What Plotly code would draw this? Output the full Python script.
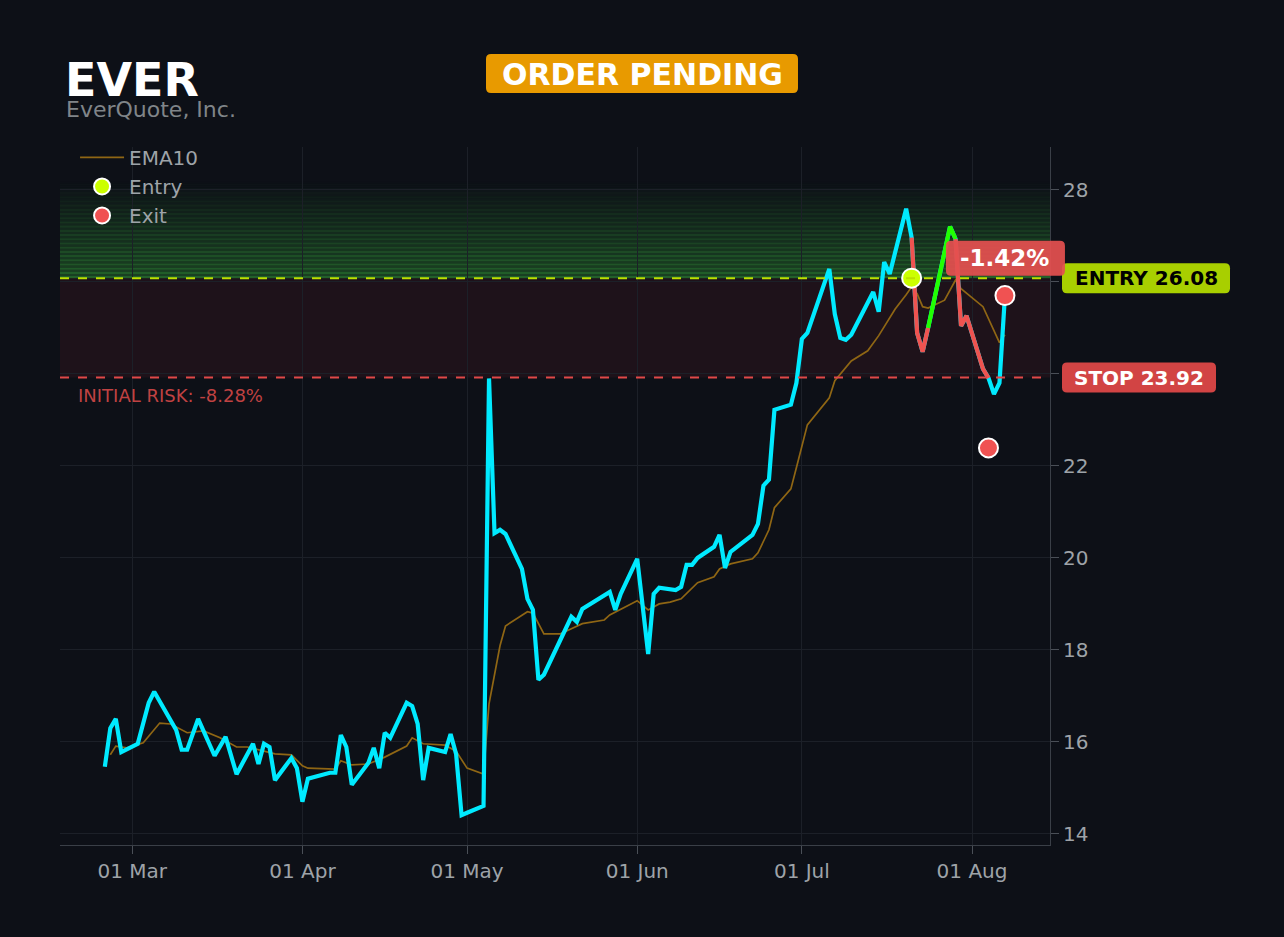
import pandas as pd
import plotly.graph_objects as go

TICKER = "EVER"
COMPANY = "EverQuote, Inc."
STATUS = "ORDER PENDING"
ENTRY_PRICE = 26.08
STOP_PRICE = 23.92
RISK_TEXT = "INITIAL RISK: -8.28%"
RESULT_TEXT = "-1.42%"

price_dates = [
    "2025-02-24", "2025-02-25", "2025-02-26", "2025-02-27", "2025-03-02", "2025-03-04", "2025-03-05",
    "2025-03-09", "2025-03-10", "2025-03-11", "2025-03-13", "2025-03-16", "2025-03-18", "2025-03-20",
    "2025-03-23", "2025-03-24", "2025-03-25", "2025-03-26", "2025-03-27", "2025-03-30", "2025-03-31",
    "2025-04-01", "2025-04-02", "2025-04-06", "2025-04-07", "2025-04-08", "2025-04-09", "2025-04-10",
    "2025-04-13", "2025-04-14", "2025-04-15", "2025-04-16", "2025-04-17", "2025-04-20", "2025-04-21",
    "2025-04-22", "2025-04-23", "2025-04-24", "2025-04-27", "2025-04-28", "2025-04-29", "2025-04-30",
    "2025-05-01", "2025-05-04", "2025-05-05", "2025-05-06", "2025-05-07", "2025-05-08", "2025-05-11",
    "2025-05-12", "2025-05-13", "2025-05-14", "2025-05-15", "2025-05-20", "2025-05-21", "2025-05-22",
    "2025-05-27", "2025-05-28", "2025-05-29", "2025-06-01", "2025-06-03", "2025-06-04", "2025-06-05",
    "2025-06-08", "2025-06-09", "2025-06-10", "2025-06-11", "2025-06-12", "2025-06-15", "2025-06-16",
    "2025-06-17", "2025-06-18", "2025-06-22", "2025-06-23", "2025-06-24", "2025-06-25", "2025-06-26",
    "2025-06-29", "2025-06-30", "2025-07-01", "2025-07-02", "2025-07-06", "2025-07-07", "2025-07-08",
    "2025-07-09", "2025-07-10", "2025-07-14", "2025-07-15", "2025-07-16", "2025-07-17", "2025-07-20",
    "2025-07-21", "2025-07-22", "2025-07-23", "2025-07-24", "2025-07-28", "2025-07-29", "2025-07-30",
    "2025-07-31", "2025-08-03", "2025-08-04", "2025-08-05", "2025-08-06", "2025-08-07",
]
price_values = [
    15.46, 16.30, 16.50, 15.78, 15.96, 16.85, 17.09,
    16.26, 15.83, 15.83, 16.50, 15.70, 16.11, 15.30,
    15.96, 15.52, 15.96, 15.89, 15.17, 15.65, 15.43,
    14.70, 15.20, 15.33, 15.33, 16.15, 15.89, 15.07,
    15.54, 15.87, 15.43, 16.20, 16.09, 16.85, 16.78,
    16.39, 15.17, 15.87, 15.78, 16.17, 15.74, 14.41,
    14.46, 14.61, 23.90, 20.54, 20.61, 20.52, 19.76,
    19.11, 18.87, 17.35, 17.46, 18.72, 18.61, 18.89,
    19.26, 18.87, 19.22, 19.98, 17.91, 19.22, 19.35,
    19.30, 19.37, 19.85, 19.85, 20.00, 20.24, 20.50,
    19.78, 20.13, 20.50, 20.74, 21.57, 21.70, 23.22,
    23.33, 23.80, 24.76, 24.89, 26.28, 25.30, 24.78,
    24.74, 24.85, 25.78, 25.35, 26.43, 26.17, 27.59,
    26.96, 24.89, 24.48, 25.00, 27.20, 26.93, 25.04,
    25.26, 24.11, 23.91, 23.56, 23.80, 25.70,
]

ema_dates = [
    "2025-02-25", "2025-02-26", "2025-02-28", "2025-03-03", "2025-03-06", "2025-03-08", "2025-03-11",
    "2025-03-14", "2025-03-17", "2025-03-20", "2025-03-22", "2025-03-27", "2025-03-30", "2025-04-01",
    "2025-04-02", "2025-04-07", "2025-04-08", "2025-04-10", "2025-04-13", "2025-04-16", "2025-04-20",
    "2025-04-21", "2025-04-23", "2025-04-27", "2025-04-29", "2025-05-01", "2025-05-04", "2025-05-05",
    "2025-05-07", "2025-05-08", "2025-05-12", "2025-05-13", "2025-05-15", "2025-05-18", "2025-05-20",
    "2025-05-22", "2025-05-26", "2025-05-27", "2025-06-01", "2025-06-03", "2025-06-05", "2025-06-07",
    "2025-06-09", "2025-06-12", "2025-06-15", "2025-06-16", "2025-06-18", "2025-06-22", "2025-06-23",
    "2025-06-25", "2025-06-26", "2025-06-29", "2025-06-30", "2025-07-02", "2025-07-06", "2025-07-07",
    "2025-07-10", "2025-07-13", "2025-07-15", "2025-07-17", "2025-07-18", "2025-07-20", "2025-07-21",
    "2025-07-22", "2025-07-23", "2025-07-24", "2025-07-27", "2025-07-29", "2025-07-30", "2025-08-03",
    "2025-08-05", "2025-08-06", "2025-08-07",
]
ema_values = [
    15.72, 15.91, 15.87, 15.98, 16.41, 16.39, 16.20,
    16.24, 16.09, 15.89, 15.89, 15.74, 15.72, 15.48,
    15.43, 15.41, 15.59, 15.50, 15.52, 15.67, 15.91,
    16.09, 15.96, 15.93, 15.80, 15.43, 15.30, 16.83,
    18.09, 18.52, 18.83, 18.80, 18.35, 18.35, 18.46,
    18.57, 18.65, 18.76, 19.07, 18.87, 19.00, 19.04,
    19.11, 19.46, 19.59, 19.76, 19.87, 19.98, 20.11,
    20.61, 21.09, 21.50, 21.96, 22.89, 23.48, 23.85,
    24.28, 24.50, 24.83, 25.20, 25.41, 25.72, 25.89,
    25.74, 25.46, 25.43, 25.60, 26.04, 25.85, 25.46,
    24.93, 24.68, 24.85,
]

entry_dates = ["2025-07-21"]
entry_values = [26.08]
exit_dates = ["2025-08-04", "2025-08-07"]
exit_values = [22.39, 25.70]

# coloured stretches of the price line during the trade: (colour key, start, end)
trade_segments = [
    ("down", "2025-07-21", "2025-07-24"),
    ("up", "2025-07-24", "2025-07-29"),
    ("down", "2025-07-29", "2025-08-04"),
]

x_ticks = ["2025-03-01", "2025-04-01", "2025-05-01", "2025-06-01", "2025-07-01", "2025-08-01"]
y_ticks = [14, 16, 18, 20, 22, 24, 26, 28]

X_RANGE = ["2025-02-15 20:00", "2025-08-15 05:00"]
Y_RANGE = [13.76, 28.93]
REWARD_TOP = 28.18

BG = "#0d1017"
CYAN = "#00eaff"
SEG_COLORS = {"down": "#ef5350", "up": "#22ff00"}
FONT = "DejaVu Sans"

W, H = 1284, 937
ML, MR, MT, MB = 60, 234, 147, 92
PW, PH = W - ML - MR, H - MT - MB


def px_to_paper(px, py):
    return (px - ML) / PW, (H - MB - py) / PH


def value_to_py(v):
    return H - MB - (v - Y_RANGE[0]) / (Y_RANGE[1] - Y_RANGE[0]) * PH


def date_to_px(d):
    t0, t1 = pd.Timestamp(X_RANGE[0]), pd.Timestamp(X_RANGE[1])
    return ML + (pd.Timestamp(d) - t0) / (t1 - t0) * PW


def rounded_box(x0, y0, x1, y1, r, color):
    def P(x, y):
        X, Y = px_to_paper(x, y)
        return f"{X:.5f},{Y:.5f}"
    path = (f"M {P(x0 + r, y0)} L {P(x1 - r, y0)} Q {P(x1, y0)} {P(x1, y0 + r)} "
            f"L {P(x1, y1 - r)} Q {P(x1, y1)} {P(x1 - r, y1)} "
            f"L {P(x0 + r, y1)} Q {P(x0, y1)} {P(x0, y1 - r)} "
            f"L {P(x0, y0 + r)} Q {P(x0, y0)} {P(x0 + r, y0)} Z")
    return dict(type="path", xref="paper", yref="paper", path=path,
                fillcolor=color, line=dict(width=0), layer="above")


fig = go.Figure()

fig.add_trace(go.Scatter(
    x=ema_dates, y=ema_values, mode="lines", name="EMA10",
    line=dict(color="#8f6614", width=1.7),
))
fig.add_trace(go.Scatter(
    x=price_dates, y=price_values, mode="lines", showlegend=False,
    line=dict(color=CYAN, width=4.2),
))
for key, d0, d1 in trade_segments:
    xs = [d for d in price_dates if d0 <= d <= d1]
    ys = [v for d, v in zip(price_dates, price_values) if d0 <= d <= d1]
    fig.add_trace(go.Scatter(
        x=xs, y=ys, mode="lines", showlegend=False,
        line=dict(color=SEG_COLORS[key], width=4.2),
    ))
fig.add_trace(go.Scatter(
    x=entry_dates, y=entry_values, mode="markers", name="Entry",
    marker=dict(color="#ccff00", size=19, line=dict(color="white", width=2)),
))
fig.add_trace(go.Scatter(
    x=exit_dates, y=exit_values, mode="markers", name="Exit",
    marker=dict(color="#f05252", size=19, line=dict(color="white", width=2)),
))

shapes = []
# reward zone: striped gradient fading upward
n = 46
step = (REWARD_TOP - ENTRY_PRICE) / n
for i in range(n):
    frac = 1 - i / n
    a = 0.52 * frac * (1.0 if i % 2 == 0 else 0.62)
    shapes.append(dict(
        type="rect", xref="paper", yref="y", x0=0, x1=1,
        y0=ENTRY_PRICE + i * step, y1=ENTRY_PRICE + (i + 1) * step,
        fillcolor=f"rgba(55,170,60,{a:.3f})", line=dict(width=0), layer="below",
    ))
shapes.append(dict(
    type="rect", xref="paper", yref="y", x0=0, x1=1, y0=STOP_PRICE, y1=ENTRY_PRICE,
    fillcolor="rgba(190,40,60,0.10)", line=dict(width=0), layer="below",
))
shapes.append(dict(
    type="line", xref="paper", yref="y", x0=0, x1=1, y0=ENTRY_PRICE, y1=ENTRY_PRICE,
    line=dict(color="#bde000", width=2, dash="dash"),
))
shapes.append(dict(
    type="line", xref="paper", yref="y", x0=0, x1=1, y0=STOP_PRICE, y1=STOP_PRICE,
    line=dict(color="#e04848", width=2, dash="dash"),
))

# label boxes
ey = value_to_py(ENTRY_PRICE)
sy = value_to_py(STOP_PRICE)
rx = date_to_px(exit_dates[-1])
ry = value_to_py(26.51)
shapes.append(rounded_box(486, 54, 798, 93, 5, "#e89a00"))
shapes.append(rounded_box(1062, ey - 15, 1230, ey + 15, 5, "#a8cf00"))
shapes.append(rounded_box(1062, sy - 15, 1216, sy + 15, 5, "#d24444"))
shapes.append(rounded_box(rx - 59, ry - 17.5, rx + 60, ry + 17.5, 5, "rgba(228,80,80,0.93)"))


def ann(text, px, py, size, color, anchor="center", bold=False):
    X, Y = px_to_paper(px, py)
    return dict(text=f"<b>{text}</b>" if bold else text, xref="paper", yref="paper",
                x=X, y=Y, xanchor=anchor, yanchor="middle", showarrow=False,
                font=dict(family=FONT, size=size, color=color))


annotations = [
    ann(TICKER, 63, 80, 46, "white", "left", True),
    ann(COMPANY, 64, 109, 22, "#808589", "left"),
    ann(STATUS, 642, 74, 30, "white", "center", True),
    ann(f"ENTRY {ENTRY_PRICE:.2f}", 1146, ey, 20, "black", "center", True),
    ann(f"STOP {STOP_PRICE:.2f}", 1139, sy, 20, "white", "center", True),
    ann(RESULT_TEXT, rx, ry, 23, "white", "center", True),
    ann(RISK_TEXT, 76, value_to_py(23.53), 18, "#c04242", "left"),
]

fig.update_layout(
    width=W, height=H,
    paper_bgcolor=BG, plot_bgcolor=BG,
    margin=dict(l=ML, r=MR, t=MT, b=MB),
    font=dict(family=FONT, color="#9ea3a8"),
    shapes=shapes, annotations=annotations,
    showlegend=True,
    legend=dict(x=0.0152, y=1.013, xanchor="left", yanchor="top", itemwidth=44,
                bgcolor="rgba(0,0,0,0)", font=dict(size=20, color="#9ea3a8"),
                tracegroupgap=0),
    xaxis=dict(
        type="date", range=X_RANGE,
        tickvals=x_ticks, tickformat="%d %b",
        ticks="outside", ticklen=8, tickcolor="#4a4f57",
        showline=True, linecolor="#3a3f47", linewidth=1,
        showgrid=True, gridcolor="#1c2028", zeroline=False,
        tickfont=dict(size=20, color="#9ea3a8"),
    ),
    yaxis=dict(
        side="right", range=Y_RANGE, tickvals=y_ticks,
        ticks="outside", ticklen=8, tickcolor="#4a4f57",
        showline=True, linecolor="#3a3f47", linewidth=1,
        showgrid=True, gridcolor="#1c2028", zeroline=False,
        tickfont=dict(size=20, color="#9ea3a8"),
    ),
)

fig.write_html(
    "out.html",
    config={"displayModeBar": False},
    post_script="document.body.style.margin='0';document.body.style.background='#0d1017';",
)
